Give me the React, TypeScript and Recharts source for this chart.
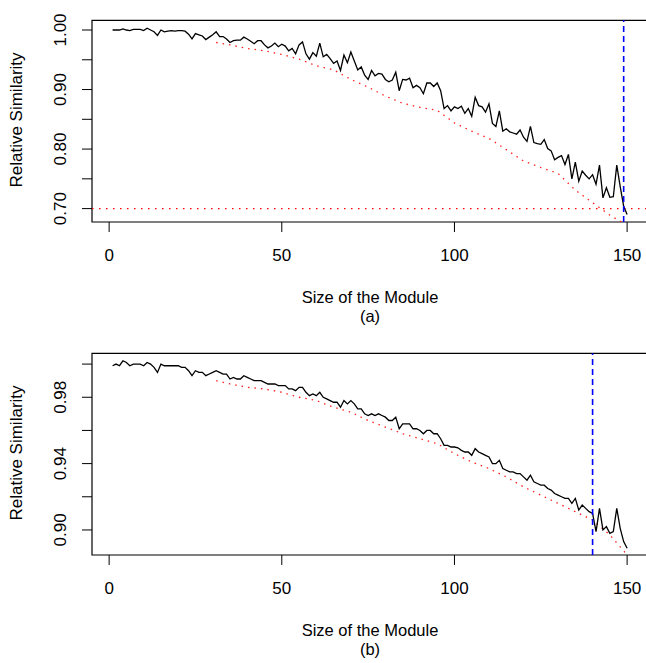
import React from "react";
import { LineChart, Line, XAxis, YAxis, ReferenceLine, ReferenceArea } from "recharts";

// observed relative similarity, module sizes 1..150
const similarityA = [
  1.0, 1.0, 1.0, 1.002, 1.0, 0.999, 1.001, 1.001, 1.001, 0.999,
  1.003, 1.0, 0.997, 0.991, 1.0, 0.997, 0.998, 0.999, 0.998, 0.999,
  0.999, 0.998, 0.993, 0.985, 0.994, 0.992, 0.99, 0.984, 0.988, 0.992,
  0.997, 0.989, 0.989, 0.985, 0.979, 0.982, 0.983, 0.983, 0.988, 0.985,
  0.981, 0.977, 0.982, 0.982, 0.975, 0.97, 0.973, 0.978, 0.972, 0.976,
  0.973, 0.965, 0.969, 0.96, 0.975, 0.98, 0.96, 0.951, 0.962, 0.956,
  0.978, 0.955, 0.959, 0.952, 0.944, 0.948, 0.932, 0.958, 0.945, 0.963,
  0.948, 0.933, 0.938, 0.924, 0.917, 0.932, 0.923, 0.927, 0.926, 0.917,
  0.913, 0.916, 0.929, 0.898, 0.917, 0.916, 0.919, 0.903, 0.907, 0.903,
  0.893, 0.911, 0.911, 0.905, 0.911, 0.898, 0.868, 0.873, 0.864, 0.871,
  0.868, 0.872, 0.86, 0.868, 0.855, 0.887, 0.873, 0.871, 0.862, 0.876,
  0.843, 0.838, 0.864, 0.83, 0.834, 0.829, 0.827, 0.825, 0.832, 0.82,
  0.813, 0.838, 0.811, 0.809, 0.808, 0.816, 0.801, 0.797, 0.782, 0.786,
  0.789, 0.774, 0.791, 0.75, 0.778, 0.746, 0.763, 0.756, 0.75, 0.757,
  0.741, 0.773, 0.718, 0.735, 0.719, 0.72, 0.773, 0.737, 0.704, 0.69,
];

const similarityB = [
  0.999, 1.0, 0.999, 1.002, 1.001, 0.999, 1.0, 1.0, 1.0, 0.999,
  1.001, 1.0, 0.998, 0.995, 1.0, 0.999, 0.999, 0.999, 0.999, 0.999,
  0.998, 0.998, 0.996, 0.993, 0.996, 0.995, 0.995, 0.993, 0.994, 0.995,
  0.996, 0.995, 0.994, 0.994, 0.991, 0.992, 0.991, 0.991, 0.993, 0.992,
  0.991, 0.99, 0.99, 0.99, 0.989, 0.988, 0.988, 0.988, 0.987, 0.987,
  0.987, 0.985, 0.985, 0.984, 0.986, 0.986, 0.983, 0.981, 0.982, 0.981,
  0.983, 0.98, 0.979, 0.978, 0.977, 0.977, 0.974, 0.978, 0.976, 0.978,
  0.976, 0.973, 0.973, 0.97, 0.969, 0.97, 0.969, 0.97, 0.969, 0.968,
  0.966, 0.966, 0.968, 0.961, 0.964, 0.964, 0.964, 0.961, 0.961, 0.96,
  0.958, 0.96, 0.96, 0.958, 0.958, 0.955, 0.951, 0.951, 0.95, 0.95,
  0.9495, 0.948, 0.947, 0.947, 0.945, 0.949, 0.947, 0.946, 0.945, 0.944,
  0.94, 0.94, 0.942, 0.937, 0.936, 0.935, 0.935, 0.934, 0.934, 0.932,
  0.93, 0.933, 0.929, 0.928, 0.927, 0.927, 0.925, 0.924, 0.922, 0.921,
  0.92, 0.919, 0.919, 0.916, 0.919, 0.912, 0.915, 0.913, 0.911, 0.91,
  0.899, 0.913, 0.9, 0.902, 0.898, 0.899, 0.913, 0.901, 0.893, 0.889,
];

// red dotted reference curve
const expectedSizes = [31, 35, 40, 45, 50, 55, 60, 65, 70, 75, 80, 85, 90, 95, 100, 105, 110, 115, 120, 125, 130, 135, 140, 145, 150];
const expectedA = [0.979, 0.975, 0.969, 0.965, 0.959, 0.951, 0.94, 0.933, 0.917, 0.904, 0.889, 0.877, 0.87, 0.865, 0.844, 0.83, 0.818, 0.799, 0.78, 0.769, 0.759, 0.731, 0.71, 0.689, 0.672];
const expectedB = [0.99, 0.988, 0.986, 0.985, 0.983, 0.98, 0.978, 0.974, 0.971, 0.966, 0.962, 0.958, 0.955, 0.952, 0.946, 0.941, 0.937, 0.932, 0.926, 0.921, 0.916, 0.911, 0.906, 0.897, 0.885];

const xTicks = [0, 50, 100, 150];
const yTicksA = [0.7, 0.75, 0.8, 0.85, 0.9, 0.95, 1.0];
const yLabelsA = ["0.70", "0.80", "0.90", "1.00"];
const yTicksB = [0.9, 0.92, 0.94, 0.96, 0.98, 1.0];
const yLabelsB = ["0.90", "0.94", "0.98"];

const FONT = "'Liberation Sans', Arial, Helvetica, sans-serif";
const X_DOMAIN: [number, number] = [-4.96, 155.96];

function buildRows(obs: number[], exp: number[]) {
  return obs.map((v, i) => {
    const size = i + 1;
    const k = expectedSizes.indexOf(size);
    return { size, observed: v, expected: k >= 0 ? exp[k] : null };
  });
}

const XTick = (props: any) => {
  const { x, y, payload } = props;
  return (
    <text x={x} y={y + 23} dy="0.36em" textAnchor="middle" fontSize={17} fontFamily={FONT} fill="#000">
      {payload.value}
    </text>
  );
};

const makeYTick = (labels: string[]) => (props: any) => {
  const { x, y, payload } = props;
  const txt = Number(payload.value).toFixed(2);
  if (!labels.includes(txt)) return <g />;
  return (
    <text
      transform={`translate(${x - 22},${y}) rotate(-90)`}
      dy="0.36em"
      textAnchor="middle"
      fontSize={17}
      fontFamily={FONT}
      fill="#000"
    >
      {txt}
    </text>
  );
};

function Panel(props: {
  top: number;
  obs: number[];
  exp: number[];
  yDomain: [number, number];
  yTicks: number[];
  yLabels: string[];
  cutoff: number;
  threshold?: number;
  caption: string;
}) {
  const rows = buildRows(props.obs, props.exp);
  const txt: React.CSSProperties = {
    position: "absolute",
    fontFamily: FONT,
    fontSize: 16.5,
    color: "#000",
    whiteSpace: "nowrap",
    lineHeight: 1,
  };
  return (
    <div style={{ position: "absolute", left: 0, top: props.top, width: 700, height: 333 }}>
      <LineChart width={700} height={300} data={rows} margin={{ top: 20.3, right: 52.3, bottom: 38, left: 32 }}>
        <XAxis
          dataKey="size"
          type="number"
          domain={X_DOMAIN}
          allowDataOverflow
          ticks={xTicks}
          tick={<XTick />}
          tickSize={10}
          tickMargin={0}
          tickLine={{ stroke: "#000" }}
          axisLine={false}
          height={40}
        />
        <YAxis
          type="number"
          domain={props.yDomain}
          allowDataOverflow
          ticks={props.yTicks}
          interval={0}
          tick={makeYTick(props.yLabels)}
          tickSize={10}
          tickMargin={0}
          tickLine={{ stroke: "#000" }}
          axisLine={false}
          width={60}
        />
        <ReferenceArea
          x1={X_DOMAIN[0]}
          x2={X_DOMAIN[1]}
          y1={props.yDomain[0]}
          y2={props.yDomain[1]}
          fill="none"
          fillOpacity={0}
          stroke="#000"
          strokeWidth={1.2}
        />
        {props.threshold !== undefined && (
          <ReferenceLine y={props.threshold} stroke="#ff0000" strokeWidth={1.3} strokeDasharray="1.5 5.5" />
        )}
        <Line
          dataKey="expected"
          type="linear"
          stroke="#ff2020"
          strokeWidth={1.3}
          strokeDasharray="1.5 5"
          dot={false}
          connectNulls
          isAnimationActive={false}
        />
        <Line dataKey="observed" type="linear" stroke="#000" strokeWidth={1.3} dot={false} isAnimationActive={false} />
        <ReferenceLine x={props.cutoff} stroke="#0000ff" strokeWidth={1.6} strokeDasharray="6 4" />
      </LineChart>
      <div
        style={{
          ...txt,
          fontSize: 17,
          left: 16,
          top: 120,
          transform: "translate(-50%,-50%) rotate(-90deg)",
        }}
      >
        Relative Similarity
      </div>
      <div style={{ ...txt, left: 370, top: 297, transform: "translate(-50%,-50%)" }}>Size of the Module</div>
      <div style={{ ...txt, left: 370, top: 316, transform: "translate(-50%,-50%)" }}>{props.caption}</div>
    </div>
  );
}

export default function App() {
  return (
    <div
      style={{
        position: "absolute",
        left: 0,
        top: 0,
        width: 646,
        height: 663,
        overflow: "hidden",
        background: "#fff",
      }}
    >
      <Panel
        top={0}
        obs={similarityA}
        exp={expectedA}
        yDomain={[0.6775, 1.0163]}
        yTicks={yTicksA}
        yLabels={yLabelsA}
        cutoff={149}
        threshold={0.7}
        caption="(a)"
      />
      <Panel
        top={333}
        obs={similarityB}
        exp={expectedB}
        yDomain={[0.8849, 1.0065]}
        yTicks={yTicksB}
        yLabels={yLabelsB}
        cutoff={140}
        caption="(b)"
      />
    </div>
  );
}
